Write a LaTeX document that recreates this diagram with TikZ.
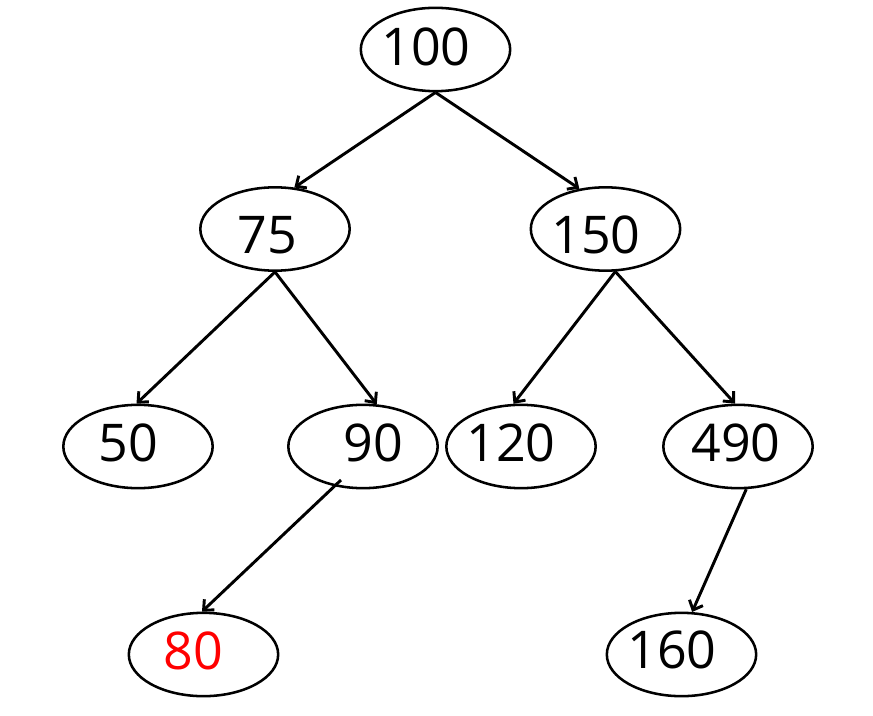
\documentclass[tikz,border=0pt]{standalone}
\usepackage{fontspec}
\setmainfont{Open Sans}
\usetikzlibrary{shapes.geometric,arrows.meta}
\newcommand{\keyat}[3]{\makebox[0pt]{\kern#1\relax\raisebox{\dimexpr#2-0.357em\relax}[0pt][0pt]{#3}}}

\begin{document}
\begin{tikzpicture}[x=0.75pt,y=-0.75pt,
	key/.style={ellipse,draw,line width=1.9pt,minimum width=112pt,minimum height=62.5pt,inner sep=0pt,font=\fontsize{39}{39}\selectfont},
	link/.style={line width=2.2pt,-{Straight Barb[length=6pt,width=11pt]}}]
	\useasboundingbox (0,0) rectangle (873,716);
	% keys
	\node[key] (n100) at (435.5,49.5) {\keyat{-14.25pt}{1.9pt}{100}};
	\node[key] (n75) at (275,229) {\keyat{-11.25pt}{-4.5pt}{75}};
	\node[key] (n150) at (605.5,229) {\keyat{-14.25pt}{-4.5pt}{150}};
	\node[key] (n50) at (138,446.5) {\keyat{-15pt}{3pt}{50}};
	\node[key] (n90) at (363,446.5) {\keyat{15pt}{3pt}{90}};
	\node[key] (n120) at (521,446.5) {\keyat{-15pt}{3pt}{120}};
	\node[key] (n490) at (738,446.5) {\keyat{-3pt}{3pt}{490}};
	\node[key] (n80) at (203.5,654.5) {\keyat{-15pt}{2.6pt}{\textcolor{red}{80}}};
	\node[key] (n160) at (681.5,654.5) {\keyat{-14.25pt}{3.75pt}{160}};
	% links
	\draw[link] (n100.south) -- (n75.65);
	\draw[link] (n100.south) -- (n150.123);
	\draw[link] (n75.south) -- (n50.92);
	\draw[link] (n75.south) -- (n90.72);
	\draw[link] (n150.283) -- (n120.100);
	\draw[link] (n150.283) -- (n490.94);
	\draw[link] ([shift={(-22,33.5)}]n90.center) -- (n80.92);
	\draw[link] (n490.281) -- (n160.76);
\end{tikzpicture}
\end{document}
